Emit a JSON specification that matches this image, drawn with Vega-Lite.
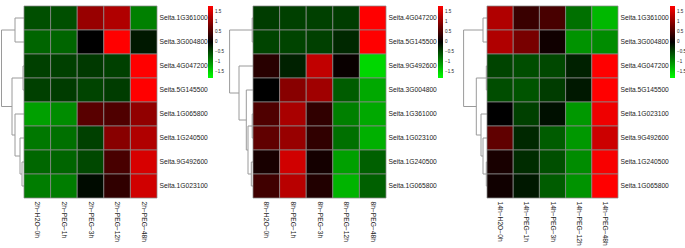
{
  "$schema": "https://vega.github.io/schema/vega-lite/v6.json",
  "padding": {"left": 0, "top": 5, "right": 0, "bottom": 0},
  "background": "white",
  "spacing": 0,
  "bounds": "flush",
  "config": {
    "view": {"stroke": null},
    "font": "Liberation Sans",
    "axis": {"labelColor": "#1a1a1a", "labelFontSize": 6.7, "ticks": false, "domain": false, "grid": false, "title": null, "labelPadding": 2},
    "axisBottom": {"labelPadding": 3},
    "legend": {"labelColor": "#1a1a1a"}
  },
  "resolve": {"scale": {"color": "independent", "x": "independent", "y": "independent"}, "legend": {"color": "independent"}},
  "hconcat": [
    {
      "width": 24, "height": 192,
      "data": {"values": [
        {"h":9,"h2":9,"y":0.5,"y2":1.5},
        {"h":1,"h2":1,"y":2.5,"y2":3.5},
        {"h":2,"h2":2,"y":6.5,"y2":7.5},
        {"h":4,"h2":4,"y":5.5,"y2":7.0},
        {"h":9,"h2":9,"y":4.5,"y2":6.25},
        {"h":12,"h2":12,"y":3.0,"y2":5.375},
        {"h":22.5,"h2":22.5,"y":1.0,"y2":4.1875},
        {"h":9,"h2":0,"y":0.5,"y2":0.5},
        {"h":9,"h2":0,"y":1.5,"y2":1.5},
        {"h":1,"h2":0,"y":2.5,"y2":2.5},
        {"h":1,"h2":0,"y":3.5,"y2":3.5},
        {"h":2,"h2":0,"y":6.5,"y2":6.5},
        {"h":2,"h2":0,"y":7.5,"y2":7.5},
        {"h":4,"h2":0,"y":5.5,"y2":5.5},
        {"h":4,"h2":2,"y":7.0,"y2":7.0},
        {"h":9,"h2":0,"y":4.5,"y2":4.5},
        {"h":9,"h2":4,"y":6.25,"y2":6.25},
        {"h":12,"h2":1,"y":3.0,"y2":3.0},
        {"h":12,"h2":9,"y":5.375,"y2":5.375},
        {"h":22.5,"h2":9,"y":1.0,"y2":1.0},
        {"h":22.5,"h2":12,"y":4.1875,"y2":4.1875}
      ]},
      "mark": {"type": "rule", "color": "#9a9a9a", "strokeWidth": 1},
      "encoding": {
        "x": {"field": "h", "type": "quantitative", "scale": {"domain": [0, 24], "reverse": true, "nice": false, "zero": false}, "axis": null},
        "x2": {"field": "h2"},
        "y": {"field": "y", "type": "quantitative", "scale": {"domain": [0, 8], "reverse": true, "nice": false, "zero": false}, "axis": null},
        "y2": {"field": "y2"}
      }
    },
    {
      "width": 133, "height": 192,
      "data": {"values": [
        {"gene":"Seita.1G361000","t":"2h−H2O−0h","v":-0.56},{"gene":"Seita.1G361000","t":"2h−PEG−1h","v":-0.56},{"gene":"Seita.1G361000","t":"2h−PEG−3h","v":1.07},{"gene":"Seita.1G361000","t":"2h−PEG−12h","v":1.24},{"gene":"Seita.1G361000","t":"2h−PEG−48h","v":-0.9},
        {"gene":"Seita.3G004800","t":"2h−H2O−0h","v":-0.71},{"gene":"Seita.3G004800","t":"2h−PEG−1h","v":-0.71},{"gene":"Seita.3G004800","t":"2h−PEG−3h","v":0.0},{"gene":"Seita.3G004800","t":"2h−PEG−12h","v":1.85},{"gene":"Seita.3G004800","t":"2h−PEG−48h","v":-0.17},
        {"gene":"Seita.4G047200","t":"2h−H2O−0h","v":-0.45},{"gene":"Seita.4G047200","t":"2h−PEG−1h","v":-0.45},{"gene":"Seita.4G047200","t":"2h−PEG−3h","v":-0.4},{"gene":"Seita.4G047200","t":"2h−PEG−12h","v":-0.45},{"gene":"Seita.4G047200","t":"2h−PEG−48h","v":1.85},
        {"gene":"Seita.5G145500","t":"2h−H2O−0h","v":-0.45},{"gene":"Seita.5G145500","t":"2h−PEG−1h","v":-0.42},{"gene":"Seita.5G145500","t":"2h−PEG−3h","v":-0.48},{"gene":"Seita.5G145500","t":"2h−PEG−12h","v":-0.42},{"gene":"Seita.5G145500","t":"2h−PEG−48h","v":1.85},
        {"gene":"Seita.1G065800","t":"2h−H2O−0h","v":-1.13},{"gene":"Seita.1G065800","t":"2h−PEG−1h","v":-0.99},{"gene":"Seita.1G065800","t":"2h−PEG−3h","v":0.62},{"gene":"Seita.1G065800","t":"2h−PEG−12h","v":0.56},{"gene":"Seita.1G065800","t":"2h−PEG−48h","v":1.02},
        {"gene":"Seita.1G240500","t":"2h−H2O−0h","v":-0.85},{"gene":"Seita.1G240500","t":"2h−PEG−1h","v":-0.79},{"gene":"Seita.1G240500","t":"2h−PEG−3h","v":-0.45},{"gene":"Seita.1G240500","t":"2h−PEG−12h","v":0.96},{"gene":"Seita.1G240500","t":"2h−PEG−48h","v":1.24},
        {"gene":"Seita.9G492600","t":"2h−H2O−0h","v":-0.73},{"gene":"Seita.9G492600","t":"2h−PEG−1h","v":-0.71},{"gene":"Seita.9G492600","t":"2h−PEG−3h","v":-0.51},{"gene":"Seita.9G492600","t":"2h−PEG−12h","v":0.51},{"gene":"Seita.9G492600","t":"2h−PEG−48h","v":1.52},
        {"gene":"Seita.1G023100","t":"2h−H2O−0h","v":-0.88},{"gene":"Seita.1G023100","t":"2h−PEG−1h","v":-0.88},{"gene":"Seita.1G023100","t":"2h−PEG−3h","v":-0.08},{"gene":"Seita.1G023100","t":"2h−PEG−12h","v":0.34},{"gene":"Seita.1G023100","t":"2h−PEG−48h","v":1.47}
      ]},
      "mark": {"type": "rect", "stroke": "#8a8a8a", "strokeWidth": 1, "strokeOpacity": 0.75},
      "encoding": {
        "x": {"field": "t", "type": "nominal", "sort": ["2h−H2O−0h","2h−PEG−1h","2h−PEG−3h","2h−PEG−12h","2h−PEG−48h"], "scale": {"paddingInner": 0, "paddingOuter": 0},
              "axis": {"orient": "bottom", "labelAngle": 90, "labelAlign": "left", "labelBaseline": "middle"}},
        "y": {"field": "gene", "type": "nominal", "sort": ["Seita.1G361000","Seita.3G004800","Seita.4G047200","Seita.5G145500","Seita.1G065800","Seita.1G240500","Seita.9G492600","Seita.1G023100"], "scale": {"paddingInner": 0, "paddingOuter": 0},
              "axis": {"orient": "right"}},
        "color": {"field": "v", "type": "quantitative",
                  "scale": {"domain": [-1.8, 0, 1.8], "range": ["#00ff00", "#000000", "#ff0000"], "interpolate": "rgb", "clamp": true, "nice": false},
                  "legend": {"orient": "none", "legendX": 184, "legendY": 0, "title": null, "direction": "vertical", "gradientLength": 72, "gradientThickness": 5, "gradientStrokeWidth": 0, "values": [1.5, 1, 0.5, 0, -0.5, -1, -1.5], "format": ".1~f", "labelFontSize": 4.5, "labelOffset": 2, "labelOverlap": false}}
      }
    },
    {
      "width": 96, "height": 192,
      "data": {"values": [
        {"h":0.8,"h2":0.8,"y":0.5,"y2":1.5},
        {"h":0.8,"h2":0.8,"y":4.5,"y2":5.5},
        {"h":1.7,"h2":1.7,"y":6.5,"y2":7.5},
        {"h":5,"h2":5,"y":5.0,"y2":7.0},
        {"h":6.7,"h2":6.7,"y":3.5,"y2":6.0},
        {"h":14,"h2":14,"y":2.5,"y2":4.75},
        {"h":23.4,"h2":23.4,"y":1.0,"y2":3.625},
        {"h":0.8,"h2":0,"y":0.5,"y2":0.5},
        {"h":0.8,"h2":0,"y":1.5,"y2":1.5},
        {"h":0.8,"h2":0,"y":4.5,"y2":4.5},
        {"h":0.8,"h2":0,"y":5.5,"y2":5.5},
        {"h":1.7,"h2":0,"y":6.5,"y2":6.5},
        {"h":1.7,"h2":0,"y":7.5,"y2":7.5},
        {"h":5,"h2":0.8,"y":5.0,"y2":5.0},
        {"h":5,"h2":1.7,"y":7.0,"y2":7.0},
        {"h":6.7,"h2":0,"y":3.5,"y2":3.5},
        {"h":6.7,"h2":5,"y":6.0,"y2":6.0},
        {"h":14,"h2":0,"y":2.5,"y2":2.5},
        {"h":14,"h2":6.7,"y":4.75,"y2":4.75},
        {"h":23.4,"h2":0.8,"y":1.0,"y2":1.0},
        {"h":23.4,"h2":14,"y":3.625,"y2":3.625}
      ]},
      "mark": {"type": "rule", "color": "#9a9a9a", "strokeWidth": 1},
      "encoding": {
        "x": {"field": "h", "type": "quantitative", "scale": {"domain": [0, 96], "reverse": true, "nice": false, "zero": false}, "axis": null},
        "x2": {"field": "h2"},
        "y": {"field": "y", "type": "quantitative", "scale": {"domain": [0, 8], "reverse": true, "nice": false, "zero": false}, "axis": null},
        "y2": {"field": "y2"}
      }
    },
    {
      "width": 133, "height": 192,
      "data": {"values": [
        {"gene":"Seita.4G047200","t":"8h−H2O−0h","v":-0.42},{"gene":"Seita.4G047200","t":"8h−PEG−1h","v":-0.45},{"gene":"Seita.4G047200","t":"8h−PEG−3h","v":-0.45},{"gene":"Seita.4G047200","t":"8h−PEG−12h","v":-0.42},{"gene":"Seita.4G047200","t":"8h−PEG−48h","v":1.85},
        {"gene":"Seita.5G145500","t":"8h−H2O−0h","v":-0.48},{"gene":"Seita.5G145500","t":"8h−PEG−1h","v":-0.48},{"gene":"Seita.5G145500","t":"8h−PEG−3h","v":-0.45},{"gene":"Seita.5G145500","t":"8h−PEG−12h","v":-0.28},{"gene":"Seita.5G145500","t":"8h−PEG−48h","v":1.85},
        {"gene":"Seita.9G492600","t":"8h−H2O−0h","v":0.28},{"gene":"Seita.9G492600","t":"8h−PEG−1h","v":-0.23},{"gene":"Seita.9G492600","t":"8h−PEG−3h","v":1.36},{"gene":"Seita.9G492600","t":"8h−PEG−12h","v":0.06},{"gene":"Seita.9G492600","t":"8h−PEG−48h","v":-1.52},
        {"gene":"Seita.3G004800","t":"8h−H2O−0h","v":0.0},{"gene":"Seita.3G004800","t":"8h−PEG−1h","v":0.96},{"gene":"Seita.3G004800","t":"8h−PEG−3h","v":1.13},{"gene":"Seita.3G004800","t":"8h−PEG−12h","v":-0.65},{"gene":"Seita.3G004800","t":"8h−PEG−48h","v":-1.19},
        {"gene":"Seita.1G361000","t":"8h−H2O−0h","v":0.56},{"gene":"Seita.1G361000","t":"8h−PEG−1h","v":1.19},{"gene":"Seita.1G361000","t":"8h−PEG−3h","v":0.34},{"gene":"Seita.1G361000","t":"8h−PEG−12h","v":-0.9},{"gene":"Seita.1G361000","t":"8h−PEG−48h","v":-1.19},
        {"gene":"Seita.1G023100","t":"8h−H2O−0h","v":0.68},{"gene":"Seita.1G023100","t":"8h−PEG−1h","v":1.07},{"gene":"Seita.1G023100","t":"8h−PEG−3h","v":0.34},{"gene":"Seita.1G023100","t":"8h−PEG−12h","v":-0.79},{"gene":"Seita.1G023100","t":"8h−PEG−48h","v":-1.24},
        {"gene":"Seita.1G240500","t":"8h−H2O−0h","v":0.17},{"gene":"Seita.1G240500","t":"8h−PEG−1h","v":1.47},{"gene":"Seita.1G240500","t":"8h−PEG−3h","v":0.14},{"gene":"Seita.1G240500","t":"8h−PEG−12h","v":-1.13},{"gene":"Seita.1G240500","t":"8h−PEG−48h","v":-0.68},
        {"gene":"Seita.1G065800","t":"8h−H2O−0h","v":0.45},{"gene":"Seita.1G065800","t":"8h−PEG−1h","v":1.3},{"gene":"Seita.1G065800","t":"8h−PEG−3h","v":0.23},{"gene":"Seita.1G065800","t":"8h−PEG−12h","v":-1.27},{"gene":"Seita.1G065800","t":"8h−PEG−48h","v":-0.68}
      ]},
      "mark": {"type": "rect", "stroke": "#8a8a8a", "strokeWidth": 1, "strokeOpacity": 0.75},
      "encoding": {
        "x": {"field": "t", "type": "nominal", "sort": ["8h−H2O−0h","8h−PEG−1h","8h−PEG−3h","8h−PEG−12h","8h−PEG−48h"], "scale": {"paddingInner": 0, "paddingOuter": 0},
              "axis": {"orient": "bottom", "labelAngle": 90, "labelAlign": "left", "labelBaseline": "middle"}},
        "y": {"field": "gene", "type": "nominal", "sort": ["Seita.4G047200","Seita.5G145500","Seita.9G492600","Seita.3G004800","Seita.1G361000","Seita.1G023100","Seita.1G240500","Seita.1G065800"], "scale": {"paddingInner": 0, "paddingOuter": 0},
              "axis": {"orient": "right"}},
        "color": {"field": "v", "type": "quantitative",
                  "scale": {"domain": [-1.8, 0, 1.8], "range": ["#00ff00", "#000000", "#ff0000"], "interpolate": "rgb", "clamp": true, "nice": false},
                  "legend": {"orient": "none", "legendX": 185, "legendY": 0, "title": null, "direction": "vertical", "gradientLength": 72, "gradientThickness": 5, "gradientStrokeWidth": 0, "values": [1.5, 1, 0.5, 0, -0.5, -1, -1.5], "format": ".1~f", "labelFontSize": 4.5, "labelOffset": 2, "labelOverlap": false}}
      }
    },
    {
      "width": 101, "height": 192,
      "data": {"values": [
        {"h":4,"h2":4,"y":0.5,"y2":1.5},
        {"h":0.7,"h2":0.7,"y":2.5,"y2":3.5},
        {"h":0.7,"h2":0.7,"y":6.5,"y2":7.5},
        {"h":4,"h2":4,"y":5.5,"y2":7.0},
        {"h":6,"h2":6,"y":4.5,"y2":6.25},
        {"h":10.7,"h2":10.7,"y":3.0,"y2":5.375},
        {"h":23.4,"h2":23.4,"y":1.0,"y2":4.1875},
        {"h":4,"h2":0,"y":0.5,"y2":0.5},
        {"h":4,"h2":0,"y":1.5,"y2":1.5},
        {"h":0.7,"h2":0,"y":2.5,"y2":2.5},
        {"h":0.7,"h2":0,"y":3.5,"y2":3.5},
        {"h":0.7,"h2":0,"y":6.5,"y2":6.5},
        {"h":0.7,"h2":0,"y":7.5,"y2":7.5},
        {"h":4,"h2":0,"y":5.5,"y2":5.5},
        {"h":4,"h2":0.7,"y":7.0,"y2":7.0},
        {"h":6,"h2":0,"y":4.5,"y2":4.5},
        {"h":6,"h2":4,"y":6.25,"y2":6.25},
        {"h":10.7,"h2":0.7,"y":3.0,"y2":3.0},
        {"h":10.7,"h2":6,"y":5.375,"y2":5.375},
        {"h":23.4,"h2":4,"y":1.0,"y2":1.0},
        {"h":23.4,"h2":10.7,"y":4.1875,"y2":4.1875}
      ]},
      "mark": {"type": "rule", "color": "#9a9a9a", "strokeWidth": 1},
      "encoding": {
        "x": {"field": "h", "type": "quantitative", "scale": {"domain": [0, 101], "reverse": true, "nice": false, "zero": false}, "axis": null},
        "x2": {"field": "h2"},
        "y": {"field": "y", "type": "quantitative", "scale": {"domain": [0, 8], "reverse": true, "nice": false, "zero": false}, "axis": null},
        "y2": {"field": "y2"}
      }
    },
    {
      "width": 131, "height": 192,
      "data": {"values": [
        {"gene":"Seita.1G361000","t":"14h−H2O−0h","v":1.24},{"gene":"Seita.1G361000","t":"14h−PEG−1h","v":0.4},{"gene":"Seita.1G361000","t":"14h−PEG−3h","v":0.51},{"gene":"Seita.1G361000","t":"14h−PEG−12h","v":-0.79},{"gene":"Seita.1G361000","t":"14h−PEG−48h","v":-1.3},
        {"gene":"Seita.3G004800","t":"14h−H2O−0h","v":1.24},{"gene":"Seita.3G004800","t":"14h−PEG−1h","v":0.85},{"gene":"Seita.3G004800","t":"14h−PEG−3h","v":0.11},{"gene":"Seita.3G004800","t":"14h−PEG−12h","v":-1.04},{"gene":"Seita.3G004800","t":"14h−PEG−48h","v":-0.99},
        {"gene":"Seita.4G047200","t":"14h−H2O−0h","v":-0.48},{"gene":"Seita.4G047200","t":"14h−PEG−1h","v":-0.54},{"gene":"Seita.4G047200","t":"14h−PEG−3h","v":-0.51},{"gene":"Seita.4G047200","t":"14h−PEG−12h","v":-0.23},{"gene":"Seita.4G047200","t":"14h−PEG−48h","v":1.85},
        {"gene":"Seita.5G145500","t":"14h−H2O−0h","v":-0.54},{"gene":"Seita.5G145500","t":"14h−PEG−1h","v":-0.59},{"gene":"Seita.5G145500","t":"14h−PEG−3h","v":-0.42},{"gene":"Seita.5G145500","t":"14h−PEG−12h","v":-0.17},{"gene":"Seita.5G145500","t":"14h−PEG−48h","v":1.85},
        {"gene":"Seita.1G023100","t":"14h−H2O−0h","v":0.0},{"gene":"Seita.1G023100","t":"14h−PEG−1h","v":-0.45},{"gene":"Seita.1G023100","t":"14h−PEG−3h","v":-0.11},{"gene":"Seita.1G023100","t":"14h−PEG−12h","v":-1.07},{"gene":"Seita.1G023100","t":"14h−PEG−48h","v":1.69},
        {"gene":"Seita.9G492600","t":"14h−H2O−0h","v":0.68},{"gene":"Seita.9G492600","t":"14h−PEG−1h","v":-0.28},{"gene":"Seita.9G492600","t":"14h−PEG−3h","v":-0.65},{"gene":"Seita.9G492600","t":"14h−PEG−12h","v":-1.07},{"gene":"Seita.9G492600","t":"14h−PEG−48h","v":1.44},
        {"gene":"Seita.1G240500","t":"14h−H2O−0h","v":0.17},{"gene":"Seita.1G240500","t":"14h−PEG−1h","v":-0.31},{"gene":"Seita.1G240500","t":"14h−PEG−3h","v":-0.56},{"gene":"Seita.1G240500","t":"14h−PEG−12h","v":-0.99},{"gene":"Seita.1G240500","t":"14h−PEG−48h","v":1.75},
        {"gene":"Seita.1G065800","t":"14h−H2O−0h","v":0.11},{"gene":"Seita.1G065800","t":"14h−PEG−1h","v":-0.17},{"gene":"Seita.1G065800","t":"14h−PEG−3h","v":-0.65},{"gene":"Seita.1G065800","t":"14h−PEG−12h","v":-1.04},{"gene":"Seita.1G065800","t":"14h−PEG−48h","v":1.8}
      ]},
      "mark": {"type": "rect", "stroke": "#8a8a8a", "strokeWidth": 1, "strokeOpacity": 0.75},
      "encoding": {
        "x": {"field": "t", "type": "nominal", "sort": ["14h−H2O−0h","14h−PEG−1h","14h−PEG−3h","14h−PEG−12h","14h−PEG−48h"], "scale": {"paddingInner": 0, "paddingOuter": 0},
              "axis": {"orient": "bottom", "labelAngle": 90, "labelAlign": "left", "labelBaseline": "middle"}},
        "y": {"field": "gene", "type": "nominal", "sort": ["Seita.1G361000","Seita.3G004800","Seita.4G047200","Seita.5G145500","Seita.1G023100","Seita.9G492600","Seita.1G240500","Seita.1G065800"], "scale": {"paddingInner": 0, "paddingOuter": 0},
              "axis": {"orient": "right"}},
        "color": {"field": "v", "type": "quantitative",
                  "scale": {"domain": [-1.8, 0, 1.8], "range": ["#00ff00", "#000000", "#ff0000"], "interpolate": "rgb", "clamp": true, "nice": false},
                  "legend": {"orient": "none", "legendX": 183, "legendY": 0, "title": null, "direction": "vertical", "gradientLength": 72, "gradientThickness": 5, "gradientStrokeWidth": 0, "values": [1.5, 1, 0.5, 0, -0.5, -1, -1.5], "format": ".1~f", "labelFontSize": 4.5, "labelOffset": 2, "labelOverlap": false}}
      }
    }
  ]
}
